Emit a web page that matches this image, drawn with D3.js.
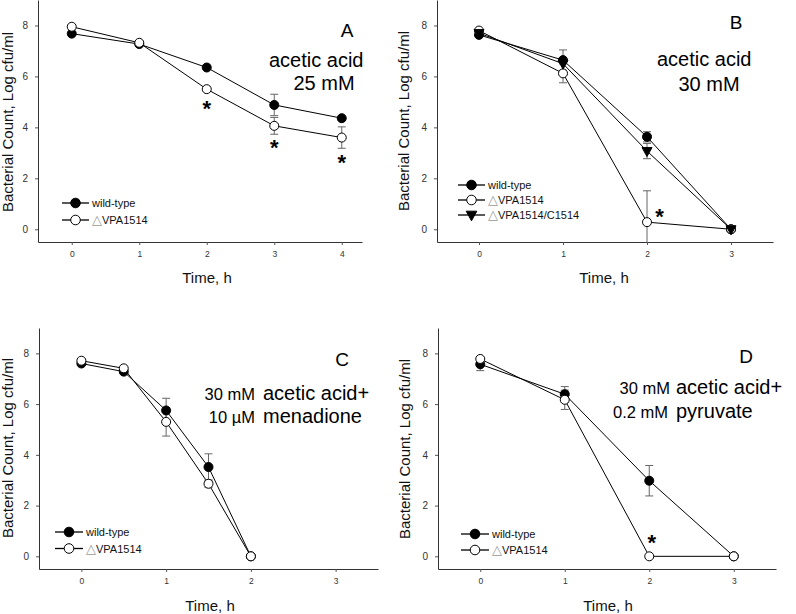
<!DOCTYPE html>
<html>
<head>
<meta charset="utf-8">
<script src="https://cdn.jsdelivr.net/npm/d3@7"></script>
<style>
body { margin: 0; background: #fff; }
text { font-family: "Liberation Sans", Arial, sans-serif; }
</style>
</head>
<body>
<svg id="chart" width="796" height="614"></svg>
<script>
var W = 796, H = 614;
var yTicks = [0, 2, 4, 6, 8];

// Panel A: acetic acid 25 mM
var timesA = [0, 1, 2, 3, 4];
var wildA = [7.68, 7.27, 6.35, 4.88, 4.36];
var wildErrA = [0, 0, 0, 0.42, 0];
var mutA = [7.95, 7.32, 5.5, 4.06, 3.6];
var mutErrA = [0, 0, 0, 0.33, 0.42];
var starsA = [[2, 4.95], [3, 3.4], [4, 2.82]];

// Panel B: acetic acid 30 mM
var timesB = [0, 1, 2, 3];
var wildB = [7.63, 6.64, 3.63, 0];
var wildErrB = [0, 0.4, 0.2, 0];
var mutB = [7.8, 6.12, 0.28, 0];
var mutErrB = [0, 0.37, 1.23, 0];
var compB = [7.7, 6.5, 3.07, 0];
var compErrB = [0, 0, 0.3, 0];
var starsB = [[2.15, 0.71]];

// Panel C: 30 mM acetic acid + 10 uM menadione
var timesC = [0, 0.5, 1, 1.5, 2];
var wildC = [7.6, 7.28, 5.75, 3.52, 0];
var wildErrC = [0, 0, 0.48, 0.52, 0];
var mutC = [7.71, 7.41, 5.3, 2.86, 0];
var mutErrC = [0, 0, 0.56, 0.15, 0];

// Panel D: 30 mM acetic acid + 0.2 mM pyruvate
var timesD = [0, 1, 2, 3];
var wildD = [7.57, 6.39, 2.98, 0];
var wildErrD = [0.25, 0.3, 0.6, 0];
var mutD = [7.78, 6.17, 0, 0];
var mutErrD = [0, 0.38, 0, 0];
var starsD = [[2.03, 0.74]];

var svg = d3.select("#chart");

function markerShape(sel, kind, r) {
    if (kind == "tri") {
        sel.append("path")
            .attr("d", "M" + (-r - 0.5) + "," + (-r + 1) + "L" + (r + 0.5) + "," + (-r + 1) + "L0," + (r + 1) + "Z")
            .attr("fill", "#000")
            .attr("stroke", "#000");
    } else {
        sel.append("circle")
            .attr("r", r)
            .attr("fill", kind == "open" ? "#fff" : "#000")
            .attr("stroke", "#000")
            .attr("stroke-width", 1);
    }
}

function panel(cfg) {
    var x = d3.scaleLinear().domain(cfg.xDomain).range([cfg.left, cfg.right]);
    var y = d3.scaleLinear().domain([-0.5, 9]).range([cfg.bottom, cfg.top]).clamp(true);

    // axes
    var gx = svg.append("g")
        .attr("transform", "translate(0," + cfg.bottom + ")")
        .call(d3.axisBottom(x).tickValues(cfg.xTicks).tickFormat(d3.format("d"))
            .tickSize(3).tickSizeOuter(0).tickPadding(6));
    gx.selectAll("text").attr("font-size", "8.5px").attr("fill", "#333").style("font-family", "'Liberation Sans', Arial, sans-serif");

    var gy = svg.append("g")
        .attr("transform", "translate(" + cfg.left + ",0)")
        .call(d3.axisLeft(y).tickValues(yTicks).tickSize(3).tickSizeOuter(0).tickPadding(7));
    gy.selectAll("text").attr("font-size", "10px").attr("fill", "#333").style("font-family", "'Liberation Sans', Arial, sans-serif");
    svg.selectAll(".domain").attr("stroke", "#333");
    svg.selectAll(".tick line").attr("stroke", "#555");

    // axis titles
    svg.append("text")
        .attr("x", cfg.xTitle[0]).attr("y", cfg.xTitle[1])
        .attr("text-anchor", "middle")
        .attr("font-size", "15px")
        .attr("fill", "#111")
        .text("Time, h");
    svg.append("text")
        .attr("transform", "translate(" + cfg.yTitle[0] + "," + cfg.yTitle[1] + ") rotate(-90)")
        .attr("text-anchor", "middle")
        .attr("font-size", "15px")
        .attr("fill", "#111")
        .text("Bacterial Count, Log cfu/ml");

    var line = d3.line()
        .x(function(d) { return x(d[0]); })
        .y(function(d) { return y(d[1]); });

    // lines first, then error bars, then markers
    cfg.series.forEach(function(s) {
        var pts = d3.zip(s.xs, s.ys);
        svg.append("path")
            .attr("d", line(pts))
            .attr("fill", "none")
            .attr("stroke", "#000")
            .attr("stroke-width", 1);
    });

    cfg.series.forEach(function(s) {
        s.xs.forEach(function(t, i) {
            var e = s.errs[i];
            if (!e) return;
            var cx = x(t);
            var g = svg.append("g").attr("stroke", "#666").attr("stroke-width", 1);
            g.append("line").attr("x1", cx).attr("x2", cx)
                .attr("y1", y(s.ys[i] - e)).attr("y2", y(s.ys[i] + e));
            if (s.ys[i] + e < 9) {
                g.append("line").attr("x1", cx - 4).attr("x2", cx + 4)
                    .attr("y1", y(s.ys[i] + e)).attr("y2", y(s.ys[i] + e));
            }
            if (s.ys[i] - e > -0.5) {
                g.append("line").attr("x1", cx - 4).attr("x2", cx + 4)
                    .attr("y1", y(s.ys[i] - e)).attr("y2", y(s.ys[i] - e));
            }
        });
    });

    cfg.series.forEach(function(s) {
        s.xs.forEach(function(t, i) {
            var g = svg.append("g").attr("transform", "translate(" + x(t) + "," + y(s.ys[i]) + ")");
            markerShape(g, s.marker, 4.5);
        });
    });

    // significance stars
    (cfg.stars || []).forEach(function(p) {
        svg.append("text")
            .attr("x", x(p[0])).attr("y", y(p[1]))
            .attr("dy", "0.57em")
            .attr("text-anchor", "middle")
            .attr("font-size", "22px")
            .attr("font-weight", "bold")
            .text("*");
    });

    // legend
    var lg = cfg.legend;
    cfg.series.forEach(function(s, i) {
        var ly = lg.y + i * lg.dy;
        svg.append("line")
            .attr("x1", lg.x1).attr("x2", lg.x2)
            .attr("y1", ly).attr("y2", ly)
            .attr("stroke", "#000").attr("stroke-width", 1.3);
        var g = svg.append("g").attr("transform", "translate(" + ((lg.x1 + lg.x2) / 2) + "," + ly + ")");
        markerShape(g, s.marker, 4.8);
        var t = svg.append("text")
            .attr("x", lg.x2 + 3).attr("y", ly + 4)
            .attr("font-size", "11px");
        if (s.tri) {
            t.append("tspan").attr("fill", "#999").style("font-family", "'DejaVu Sans', sans-serif").attr("font-size", "13px").text("\u25B3");
        }
        t.append("tspan").attr("fill", "#111").text(s.name);
    });

    // condition annotations
    cfg.notes.forEach(function(n) {
        svg.append("text")
            .attr("x", n.x).attr("y", n.y)
            .attr("text-anchor", n.anchor || "start")
            .attr("font-size", n.size + "px")
            .text(n.text);
    });
}

panel({
    left: 38, right: 362, top: 0, bottom: 242,
    xDomain: [-0.5, 4.3], xTicks: timesA,
    xTitle: [207, 283], yTitle: [13, 122],
    series: [
        { name: "wild-type", xs: timesA, ys: wildA, errs: wildErrA, marker: "filled" },
        { name: "VPA1514", tri: true, xs: timesA, ys: mutA, errs: mutErrA, marker: "open" }
    ],
    stars: starsA,
    legend: { x1: 62, x2: 89, y: 203, dy: 17 },
    notes: [
        { text: "A", x: 347, y: 37, size: 19, anchor: "middle" },
        { text: "acetic acid", x: 269, y: 67, size: 20 },
        { text: "25 mM", x: 324, y: 90, size: 20, anchor: "middle" }
    ]
});

panel({
    left: 437, right: 773, top: 0, bottom: 242,
    xDomain: [-0.5, 3.5], xTicks: timesB,
    xTitle: [604, 283], yTitle: [409, 121],
    series: [
        { name: "wild-type", xs: timesB, ys: wildB, errs: wildErrB, marker: "filled" },
        { name: "VPA1514", tri: true, xs: timesB, ys: mutB, errs: mutErrB, marker: "open" },
        { name: "VPA1514/C1514", tri: true, xs: timesB, ys: compB, errs: compErrB, marker: "tri" }
    ],
    stars: starsB,
    legend: { x1: 458, x2: 485, y: 185, dy: 15 },
    notes: [
        { text: "B", x: 736, y: 29, size: 19, anchor: "middle" },
        { text: "acetic acid", x: 657, y: 66, size: 20 },
        { text: "30 mM", x: 709, y: 91, size: 20, anchor: "middle" }
    ]
});

panel({
    left: 39, right: 378, top: 328, bottom: 569,
    xDomain: [-0.5, 3.5], xTicks: [0, 1, 2, 3],
    xTitle: [210, 611], yTitle: [13, 448],
    series: [
        { name: "wild-type", xs: timesC, ys: wildC, errs: wildErrC, marker: "filled" },
        { name: "VPA1514", tri: true, xs: timesC, ys: mutC, errs: mutErrC, marker: "open" }
    ],
    legend: { x1: 55, x2: 83, y: 532, dy: 16.5 },
    notes: [
        { text: "C", x: 342, y: 366, size: 19, anchor: "middle" },
        { text: "30 mM", x: 255, y: 400, size: 16.5, anchor: "end" },
        { text: "acetic acid+", x: 263, y: 400, size: 20 },
        { text: "10 \u00B5M", x: 255, y: 423, size: 16.5, anchor: "end" },
        { text: "menadione", x: 263, y: 423, size: 20 }
    ]
});

panel({
    left: 438, right: 776, top: 328, bottom: 569,
    xDomain: [-0.5, 3.5], xTicks: timesD,
    xTitle: [608, 611], yTitle: [410, 449],
    series: [
        { name: "wild-type", xs: timesD, ys: wildD, errs: wildErrD, marker: "filled" },
        { name: "VPA1514", tri: true, xs: timesD, ys: mutD, errs: mutErrD, marker: "open" }
    ],
    stars: starsD,
    legend: { x1: 461, x2: 489, y: 534, dy: 16 },
    notes: [
        { text: "D", x: 746, y: 363, size: 19, anchor: "middle" },
        { text: "30 mM", x: 670, y: 394, size: 16.5, anchor: "end" },
        { text: "acetic acid+", x: 676, y: 394, size: 20 },
        { text: "0.2 mM", x: 668, y: 418, size: 16.5, anchor: "end" },
        { text: "pyruvate", x: 676, y: 418, size: 20 }
    ]
});
</script>
</body>
</html>
